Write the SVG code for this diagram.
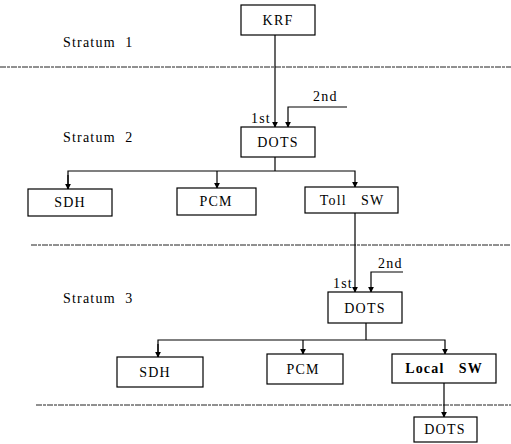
<svg xmlns="http://www.w3.org/2000/svg" width="511" height="444" viewBox="0 0 511 444">
<style>
.box{fill:#fff;stroke:#000;stroke-width:1.2}
.t{font-family:"Liberation Serif","Times New Roman",serif;font-size:14px;fill:#000;letter-spacing:1.2px}
.c{text-anchor:middle}
.ln{fill:none;stroke:#000;stroke-width:1.2}
.sep{fill:none;stroke:#222;stroke-width:1;stroke-dasharray:6 1 3 1}
</style>
<defs>
<marker id="ah" viewBox="0 0 8 8" refX="7" refY="4" markerWidth="6" markerHeight="6" orient="auto" markerUnits="userSpaceOnUse">
<path d="M0,0 L8,4 L0,8 Z" fill="#000"/>
</marker>
</defs>
<rect width="511" height="444" fill="#fff"/>
<g id="strata">
<text class="t" x="63" y="47" xml:space="preserve">Stratum  1</text>
<text class="t" x="63" y="142" xml:space="preserve">Stratum  2</text>
<text class="t" x="63" y="303" xml:space="preserve">Stratum  3</text>
<line class="sep" x1="0" y1="67" x2="511" y2="67"/>
<line class="sep" x1="31" y1="245" x2="511" y2="245"/>
<line class="sep" x1="36" y1="405" x2="511" y2="405"/>
</g>
<g id="connectors">
<line class="ln" x1="275" y1="35" x2="275" y2="127" marker-end="url(#ah)"/>
<polyline class="ln" points="347,107 288,107 288,127" marker-end="url(#ah)"/>
<line class="ln" x1="275" y1="157" x2="275" y2="171"/>
<polyline class="ln" points="68,189 68,171 355,171 355,187" marker-end="url(#ah)"/>
<line class="ln" x1="68" y1="175" x2="68" y2="189" marker-end="url(#ah)"/>
<line class="ln" x1="217" y1="171" x2="217" y2="188" marker-end="url(#ah)"/>
<line class="ln" x1="355" y1="213" x2="355" y2="292" marker-end="url(#ah)"/>
<polyline class="ln" points="403,272 371,272 371,292" marker-end="url(#ah)"/>
<line class="ln" x1="366" y1="323" x2="366" y2="340"/>
<polyline class="ln" points="158,357 158,340 445,340 445,354" marker-end="url(#ah)"/>
<line class="ln" x1="158" y1="344" x2="158" y2="357" marker-end="url(#ah)"/>
<line class="ln" x1="303" y1="340" x2="303" y2="354" marker-end="url(#ah)"/>
<line class="ln" x1="444" y1="383" x2="444" y2="417" marker-end="url(#ah)"/>
<text class="t" x="251" y="123">1st</text>
<text class="t" x="313" y="101">2nd</text>
<text class="t" x="333" y="288">1st</text>
<text class="t" x="378" y="268">2nd</text>
</g>
<g id="krf"><rect class="box" x="241" y="5" width="74" height="30"/><text class="t c" x="278" y="25">KRF</text></g>
<g id="dots2"><rect class="box" x="241" y="127" width="74" height="30"/><text class="t c" x="278" y="147">DOTS</text></g>
<g id="sdh2"><rect class="box" x="28" y="189" width="84" height="27"/><text class="t c" x="70" y="207">SDH</text></g>
<g id="pcm2"><rect class="box" x="177" y="188" width="79" height="27"/><text class="t c" x="216" y="206">PCM</text></g>
<g id="toll"><rect class="box" x="305" y="187" width="93" height="26"/><text class="t c" x="352" y="205" xml:space="preserve">Toll   SW</text></g>
<g id="dots3"><rect class="box" x="328" y="292" width="74" height="31"/><text class="t c" x="365" y="313">DOTS</text></g>
<g id="sdh3"><rect class="box" x="117" y="357" width="86" height="30"/><text class="t c" x="155" y="377">SDH</text></g>
<g id="pcm3"><rect class="box" x="267" y="354" width="76" height="30"/><text class="t c" x="303" y="374">PCM</text></g>
<g id="local"><rect class="box" x="392" y="354" width="104" height="29"/><text class="t c" x="444" y="373" font-weight="bold" xml:space="preserve">Local   SW</text></g>
<g id="dots4"><rect class="box" x="414" y="417" width="63" height="25"/><text class="t c" x="445" y="434">DOTS</text></g>
</svg>
